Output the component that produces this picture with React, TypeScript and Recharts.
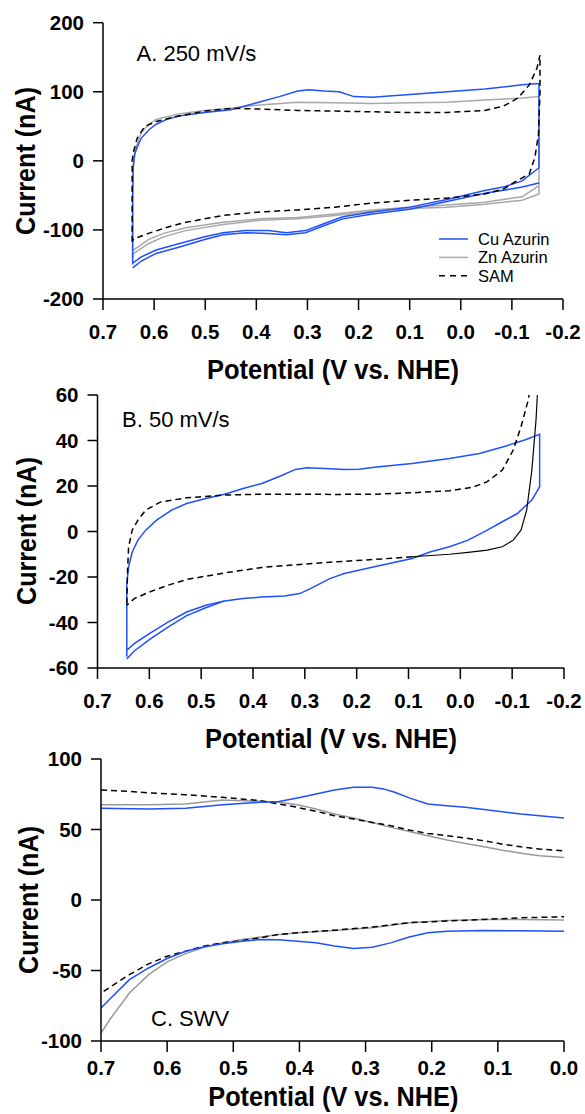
import React from 'react';
import { LineChart, Line, XAxis, YAxis } from 'recharts';

// potential axis ticks (V vs. NHE) and current ticks (nA)
const CV_POT_TICKS = [0.7, 0.6, 0.5, 0.4, 0.3, 0.2, 0.1, 0.0, -0.1, -0.2];
const SWV_POT_TICKS = [0.7, 0.6, 0.5, 0.4, 0.3, 0.2, 0.1, 0.0];
const A_CUR_TICKS = [-200, -100, 0, 100, 200];
const B_CUR_TICKS = [-60, -40, -20, 0, 20, 40, 60];
const C_CUR_TICKS = [-100, -50, 0, 50, 100];

const SERIES_NAMES = ['Cu Azurin', 'Zn Azurin', 'SAM'];

// A. 250 mV/s cyclic voltammograms
const A_CU_V = [0.642, 0.642, 0.641, 0.638, 0.632, 0.625, 0.61, 0.596, 0.575, 0.552, 0.501, 0.45, 0.399, 0.355, 0.319, 0.297, 0.268, 0.238, 0.209, 0.173, 0.1, 0.027, -0.047, -0.12, -0.153, -0.153, -0.12, -0.083, -0.047, 0.027, 0.1, 0.173, 0.231, 0.268, 0.304, 0.341, 0.377, 0.421, 0.465, 0.501, 0.552, 0.596, 0.625, 0.642];
const A_CU_I = [-150, -60, -10, 10, 22, 33, 45, 53, 60, 65, 70, 74, 84, 93, 101, 103, 101, 100, 93, 92, 96, 100, 104, 110, 112, -10, -29, -38, -43, -56, -67, -74, -81, -91, -101, -104, -101, -101, -104, -110, -120, -129, -139, -148];
const A_CU2_V = [-0.153, -0.12, -0.047, 0.027, 0.1, 0.173, 0.231, 0.268, 0.304, 0.341, 0.377, 0.421, 0.465, 0.501, 0.552, 0.596, 0.625, 0.642];
const A_CU2_I = [-32, -38, -47, -59, -70, -77, -84, -94, -104, -107, -105, -104, -107, -114, -125, -134, -145, -155];
const A_ZN_V = [0.642, 0.642, 0.64, 0.635, 0.625, 0.61, 0.596, 0.552, 0.501, 0.45, 0.393, 0.319, 0.246, 0.173, 0.1, 0.027, -0.047, -0.12, -0.153, -0.153, -0.12, -0.047, 0.027, 0.1, 0.173, 0.246, 0.319, 0.393, 0.465, 0.538, 0.582, 0.611, 0.64, 0.642];
const A_ZN_I = [-140, -40, 0, 20, 41, 53, 60, 68, 73, 76, 81, 85, 84, 83, 84, 85, 88, 91, 93, -48, -57, -63, -67, -69, -73, -79, -84, -86, -92, -101, -110, -120, -134, -140];
const A_ZN2_V = [-0.153, -0.12, -0.047, 0.027, 0.1, 0.173, 0.246, 0.319, 0.393, 0.465, 0.538, 0.582, 0.611, 0.642];
const A_ZN2_I = [-36, -52, -60, -64, -67, -71, -77, -82, -84, -89, -97, -105, -114, -130];
const A_SAM_V = [0.643, 0.643, 0.643, 0.64, 0.633, 0.618, 0.596, 0.552, 0.501, 0.45, 0.393, 0.319, 0.246, 0.173, 0.1, 0.027, -0.047, -0.083, -0.112, -0.134, -0.149, -0.155, -0.155, -0.152, -0.145, -0.134, -0.105, -0.083, -0.047, 0.027, 0.1, 0.173, 0.246, 0.319, 0.393, 0.465, 0.538, 0.574, 0.611, 0.64, 0.643];
const A_SAM_I = [-117, -60, 0, 14, 33, 50, 57, 65, 72, 76, 75, 73, 72, 71, 70, 70, 73, 79, 91, 110, 134, 153, 100, 38, 5, -19, -31, -41, -48, -54, -57, -61, -67, -71, -74, -79, -89, -96, -105, -113, -117];

// B. 50 mV/s
const B_CU_V = [0.6435, 0.6435, 0.64, 0.633, 0.622, 0.607, 0.586, 0.557, 0.528, 0.491, 0.455, 0.419, 0.383, 0.347, 0.318, 0.296, 0.26, 0.224, 0.195, 0.166, 0.093, 0.021, -0.037, -0.088, -0.124, -0.153, -0.153, -0.138, -0.11, -0.081, -0.052, -0.015, 0.021, 0.057, 0.093, 0.166, 0.224, 0.252, 0.289, 0.31, 0.339, 0.383, 0.419, 0.455, 0.491, 0.528, 0.564, 0.6, 0.629, 0.6435];
const B_CU_I = [-55, -23, -15.5, -9, -3.8, 0.6, 5, 9.4, 12.3, 14.5, 16.4, 18.9, 21.1, 24.4, 27.3, 28, 27.7, 27.3, 27.4, 28.2, 29.9, 32.1, 34.3, 37.6, 40.2, 42.7, 19.7, 13.8, 7.9, 4.3, 0.6, -3.8, -6.7, -8.9, -11.9, -15.5, -18.5, -20.7, -25.1, -27.3, -28.3, -28.8, -29.5, -30.5, -32.4, -35.4, -39.8, -44.9, -49.3, -52.2];
const B_CU2_V = [0.455, 0.491, 0.528, 0.564, 0.6, 0.629, 0.6435];
const B_CU2_I = [-30.5, -33.5, -37, -42, -47.5, -52.5, -56];
const B_SAM_UP_V = [0.6435, 0.642, 0.64, 0.633, 0.622, 0.607, 0.578, 0.528, 0.455, 0.383, 0.31, 0.238, 0.166, 0.093, 0.021, -0.023, -0.052, -0.081, -0.102, -0.117, -0.131, -0.14];
const B_SAM_UP_I = [-31.7, -17, -6.7, 0.6, 5, 9.4, 13, 14.8, 16, 16.4, 16.4, 16.3, 16.4, 17, 17.9, 19.4, 21.9, 27, 35.8, 46, 57.8, 70];
const B_SAM_RET_V = [-0.151, -0.146, -0.138, -0.128, -0.117, -0.102, -0.081, -0.052, -0.015, 0.021, 0.093];
const B_SAM_RET_I = [70, 49, 27, 9.4, 0.6, -3.8, -6.7, -8.2, -9.2, -10, -11.1];
const B_SAM_DN_V = [0.093, 0.166, 0.238, 0.31, 0.383, 0.455, 0.528, 0.564, 0.6, 0.629, 0.6435];
const B_SAM_DN_I = [-11.1, -12.3, -13.3, -14.5, -15.8, -18.2, -21.1, -23.6, -26.6, -29.5, -32.4];

// C. SWV
const C_CU_UP_V = [0.7, 0.628, 0.572, 0.516, 0.459, 0.431, 0.403, 0.375, 0.347, 0.318, 0.29, 0.273, 0.256, 0.234, 0.206, 0.177, 0.149, 0.121, 0.093, 0.065, 0.037, 0.0];
const C_CU_UP_I = [65, 64.5, 65, 67.6, 69.3, 69.8, 72.4, 75.2, 78, 80, 80, 78.8, 76.4, 72.4, 68.1, 66.9, 65.7, 64.1, 62.6, 61, 59.8, 58.1];
const C_ZN_UP_V = [0.7, 0.628, 0.572, 0.516, 0.459, 0.431, 0.403, 0.375, 0.347, 0.318, 0.29, 0.262, 0.234, 0.206, 0.177, 0.149, 0.121, 0.093, 0.065, 0.037, 0.0];
const C_ZN_UP_I = [67.6, 67.6, 68.1, 70.9, 70, 69.3, 67.6, 64.5, 61, 58.1, 55, 51.5, 48.6, 45.6, 42.5, 40.1, 37.7, 35.3, 33.2, 31.3, 30.1];
const C_SAM_UP_V = [0.7, 0.657, 0.628, 0.572, 0.516, 0.459, 0.431, 0.403, 0.375, 0.347, 0.318, 0.29, 0.262, 0.234, 0.206, 0.177, 0.149, 0.121, 0.093, 0.065, 0.037, 0.0];
const C_SAM_UP_I = [78, 77.1, 75.9, 74.7, 72.8, 70.5, 68.1, 65.7, 62.9, 59.8, 57.4, 55, 52.7, 49.6, 47.2, 45.6, 43.9, 42, 39.6, 37.7, 36.1, 34.9];
const C_CU_DN_V = [0.7, 0.685, 0.657, 0.628, 0.6, 0.572, 0.544, 0.516, 0.487, 0.459, 0.431, 0.403, 0.375, 0.347, 0.318, 0.29, 0.262, 0.234, 0.206, 0.177, 0.121, 0.065, 0.0];
const C_CU_DN_I = [-76.6, -69.5, -56.5, -48.2, -41.5, -36.3, -33.2, -31.1, -29.2, -28, -28.2, -29.2, -30.4, -32.7, -34.4, -33.5, -30.4, -26.3, -23.3, -22.1, -21.6, -21.8, -22.1];
const C_ZN_DN_V = [0.7, 0.685, 0.657, 0.628, 0.6, 0.572, 0.544, 0.516, 0.487, 0.459, 0.431, 0.403, 0.347, 0.29, 0.234, 0.177, 0.121, 0.065, 0.0];
const C_ZN_DN_I = [-94.4, -83.7, -66, -52.9, -43.9, -38, -33.5, -30.4, -28, -26.3, -24.4, -23.3, -21.6, -19.7, -16.1, -14.5, -13.8, -13.8, -14.2];
const C_SAM_DN_V = [0.696, 0.657, 0.628, 0.6, 0.572, 0.544, 0.516, 0.487, 0.459, 0.431, 0.403, 0.347, 0.29, 0.234, 0.177, 0.121, 0.065, 0.0];
const C_SAM_DN_I = [-64.8, -52.9, -45.3, -39.9, -36.3, -32.7, -30.4, -28.7, -26.8, -24.4, -23.3, -21.4, -19.2, -16.1, -14.9, -13.8, -12.6, -11.9];

const FONT = '"Liberation Sans", Arial, Helvetica, sans-serif';
const BLUE = '#1f4fff';
const GRAY = '#a8a8a8';
const GRAY_C = '#999999';
const BLACK = '#000000';

const pts = (v: number[], i: number[]) => v.map((p, k) => ({ p, i: i[k] }));

const axisLine = { stroke: '#000', strokeWidth: 1.5 };
const tickFont = { fill: '#000', fontSize: 20.5, fontWeight: 700, fontFamily: FONT };

type PanelProps = {
  top: number;
  height: number;
  margin: { top: number; right: number; bottom: number; left: number };
  xDomain: [number, number];
  xTicks: number[];
  xTickMargin: number;
  yDomain: [number, number];
  yTicks: number[];
  children: React.ReactNode;
};

function Panel({ top, height, margin, xDomain, xTicks, xTickMargin, yDomain, yTicks, children }: PanelProps) {
  return (
    <div style={{ position: 'absolute', left: 0, top }}>
      <LineChart width={585} height={height} margin={margin}>
        <XAxis
          type="number"
          dataKey="p"
          domain={xDomain}
          reversed
          allowDataOverflow
          ticks={xTicks}
          interval={0}
          tickFormatter={(v: number) => v.toFixed(1)}
          axisLine={axisLine}
          tickLine={axisLine}
          tickSize={11}
          tickMargin={xTickMargin}
          tick={tickFont}
          height={40}
        />
        <YAxis
          type="number"
          domain={yDomain}
          allowDataOverflow
          ticks={yTicks}
          interval={0}
          axisLine={axisLine}
          tickLine={axisLine}
          tickSize={10}
          tickMargin={9}
          tick={tickFont}
          width={60}
        />
        {children}
      </LineChart>
    </div>
  );
}

const line = (key: string, data: { p: number; i: number }[], stroke: string, dash?: string, w = 1.5) => (
  <Line
    key={key}
    data={data}
    dataKey="i"
    type="linear"
    stroke={stroke}
    strokeWidth={w}
    strokeDasharray={dash}
    dot={false}
    activeDot={false}
    isAnimationActive={false}
  />
);

const DASH = '6 4';

export default function App() {
  const title = { fontFamily: FONT, fontSize: 27, fontWeight: 700, fill: '#000', lengthAdjust: 'spacingAndGlyphs' as const };
  return (
    <div style={{ position: 'fixed', left: 0, top: 0, width: 585, height: 1114, overflow: 'hidden', background: '#fff' }}>
      <Panel
        top={0}
        height={380}
        margin={{ top: 22.7, right: 22, bottom: 41, left: 43 }}
        xDomain={[-0.2, 0.7]}
        xTicks={CV_POT_TICKS}
        xTickMargin={14}
        yDomain={[-200, 200]}
        yTicks={A_CUR_TICKS}
      >
        {line('azn', pts(A_ZN_V, A_ZN_I), GRAY)}
        {line('azn2', pts(A_ZN2_V, A_ZN2_I), GRAY)}
        {line('acu', pts(A_CU_V, A_CU_I), BLUE)}
        {line('acu2', pts(A_CU2_V, A_CU2_I), BLUE)}
        {line('asam', pts(A_SAM_V, A_SAM_I), BLACK, DASH)}
      </Panel>
      <Panel
        top={380}
        height={380}
        margin={{ top: 15, right: 21, bottom: 52, left: 37.5 }}
        xDomain={[-0.2, 0.7]}
        xTicks={CV_POT_TICKS}
        xTickMargin={14}
        yDomain={[-60, 60]}
        yTicks={B_CUR_TICKS}
      >
        {line('bcu', pts(B_CU_V, B_CU_I), BLUE)}
        {line('bcu2', pts(B_CU2_V, B_CU2_I), BLUE)}
        {line('bsu', pts(B_SAM_UP_V, B_SAM_UP_I), BLACK, DASH)}
        {line('bsr', pts(B_SAM_RET_V, B_SAM_RET_I), BLACK, undefined, 1.2)}
        {line('bsd', pts(B_SAM_DN_V, B_SAM_DN_I), BLACK, DASH)}
      </Panel>
      <Panel
        top={740}
        height={374}
        margin={{ top: 19, right: 21, bottom: 33, left: 41 }}
        xDomain={[0, 0.7]}
        xTicks={SWV_POT_TICKS}
        xTickMargin={8}
        yDomain={[-100, 100]}
        yTicks={C_CUR_TICKS}
      >
        {line('czu', pts(C_ZN_UP_V, C_ZN_UP_I), GRAY_C)}
        {line('czd', pts(C_ZN_DN_V, C_ZN_DN_I), GRAY_C)}
        {line('csu', pts(C_SAM_UP_V, C_SAM_UP_I), BLACK, DASH)}
        {line('csd', pts(C_SAM_DN_V, C_SAM_DN_I), BLACK, DASH)}
        {line('ccu', pts(C_CU_UP_V, C_CU_UP_I), BLUE)}
        {line('ccd', pts(C_CU_DN_V, C_CU_DN_I), BLUE)}
      </Panel>
      <svg width={585} height={1114} style={{ position: 'absolute', left: 0, top: 0, pointerEvents: 'none' }}>
        <g fontFamily={FONT} fill="#000">
          <text x={136.5} y={60.7} fontSize={22}>A. 250 mV/s</text>
          <text x={122} y={427} fontSize={22}>B. 50 mV/s</text>
          <text x={151} y={1026} fontSize={22}>C. SWV</text>
        </g>
        <text x={333} y={379} textAnchor="middle" textLength={252} {...title}>Potential (V vs. NHE)</text>
        <text x={331} y={748} textAnchor="middle" textLength={252} {...title}>Potential (V vs. NHE)</text>
        <text x={333.3} y={1105.7} textAnchor="middle" textLength={250} {...title}>Potential (V vs. NHE)</text>
        <text x={35} y={161} textAnchor="middle" textLength={148} transform="rotate(-90 35 161)" {...title}>Current (nA)</text>
        <text x={36} y={531} textAnchor="middle" textLength={148} transform="rotate(-90 36 531)" {...title}>Current (nA)</text>
        <text x={38} y={900} textAnchor="middle" textLength={148} transform="rotate(-90 38 900)" {...title}>Current (nA)</text>
        {SERIES_NAMES.map((name, k) => {
          const y = 239 + k * 18.4;
          const stroke = k === 0 ? BLUE : k === 1 ? GRAY : BLACK;
          return (
            <g key={name}>
              <line x1={439} x2={468} y1={y} y2={y} stroke={stroke} strokeWidth={1.5} strokeDasharray={k === 2 ? '6 5' : undefined} />
              <text x={478} y={y + 5.8} fontSize={16.5} fontFamily={FONT} fill="#000">{name}</text>
            </g>
          );
        })}
      </svg>
    </div>
  );
}
